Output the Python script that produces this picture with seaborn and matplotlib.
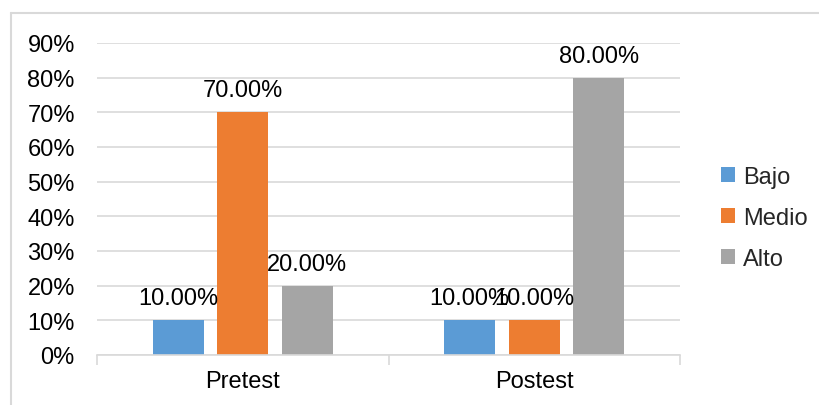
import matplotlib
matplotlib.use("Agg")
import matplotlib.pyplot as plt
import seaborn as sns
import pandas as pd
from matplotlib.lines import Line2D
from matplotlib.ticker import FixedLocator, PercentFormatter

categories = ["Pretest", "Postest"]
levels = ["Bajo", "Medio", "Alto"]
bajo = [0.10, 0.10]
medio = [0.70, 0.10]
alto = [0.20, 0.80]
yticks = [0, 0.1, 0.2, 0.3, 0.4, 0.5, 0.6, 0.7, 0.8, 0.9]
colors = ["#5B9BD5", "#ED7D31", "#A5A5A5"]

df = pd.DataFrame({
    "cat": categories * 3,
    "level": [l for l in levels for _ in categories],
    "val": bajo + medio + alto,
})

sns.set_theme(style="white")
plt.rcParams["font.family"] = ["Liberation Sans", "DejaVu Sans"]

fig = plt.figure(figsize=(8.19, 4.06), dpi=100)
ax = fig.add_axes([97/819, 1-356/406, (680-97)/819, (356-44)/406])

sns.barplot(data=df, x="cat", y="val", hue="level", order=categories,
            hue_order=levels, palette=colors, width=0.664, gap=0.21,
            saturation=1, ax=ax, legend=True, linewidth=0, edgecolor="none")

ax.set_ylim(0, 0.9)
ax.set_xlim(-0.5, 1.5)
ax.set_yticks(yticks)
ax.yaxis.set_major_formatter(PercentFormatter(1.0, decimals=0))
ax.yaxis.grid(True, color="#d9d9d9", linewidth=1.2)
ax.set_axisbelow(True)
for s in ["left", "right", "top"]:
    ax.spines[s].set_visible(False)
ax.spines["bottom"].set_color("#d9d9d9")
ax.spines["bottom"].set_linewidth(1.2)
ax.set_xlabel("")
ax.set_ylabel("")
ax.tick_params(axis="y", length=0, labelsize=17, pad=16, colors="black")
ax.tick_params(axis="x", length=0, labelsize=17, pad=11, colors="black")
ax.xaxis.set_minor_locator(FixedLocator([-0.5, 0.5, 1.5]))
ax.tick_params(axis="x", which="minor", length=7, color="#d9d9d9", width=1.2, bottom=True)

for cont in ax.containers:
    labels = [f"{v*100:.2f}%" for v in cont.datavalues]
    ax.bar_label(cont, labels=labels, fontsize=17, padding=8, color="black")

handles, labs = ax.get_legend_handles_labels()
ax.legend(handles, labs, loc="center left", bbox_to_anchor=(1.054, 0.44),
          frameon=False, fontsize=17, handlelength=0.6, handleheight=0.6,
          handletextpad=0.35, labelspacing=0.8, borderaxespad=0)

fig.add_artist(Line2D([11/819, 1], [1-14/406, 1-14/406], color="#d9d9d9", linewidth=1.5))
fig.add_artist(Line2D([11/819, 11/819], [0, 1-14/406], color="#d9d9d9", linewidth=1.5))

fig.savefig("out.png", dpi=100)
